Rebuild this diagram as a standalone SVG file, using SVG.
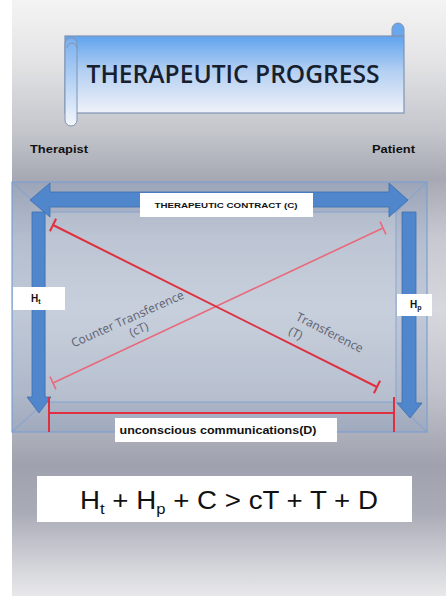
<svg xmlns="http://www.w3.org/2000/svg" width="446" height="596" viewBox="0 0 446 596">
  <defs>
    <linearGradient id="bg" x1="0" y1="0" x2="0" y2="1">
      <stop offset="0" stop-color="#f4f4f4"/>
      <stop offset="0.1" stop-color="#e4e4e6"/>
      <stop offset="0.22" stop-color="#c4c6cc"/>
      <stop offset="0.3" stop-color="#a6a9b3"/>
      <stop offset="0.4" stop-color="#c6c9d0"/>
      <stop offset="0.52" stop-color="#d6d8dd"/>
      <stop offset="0.66" stop-color="#bfc2ca"/>
      <stop offset="0.78" stop-color="#9fa2ae"/>
      <stop offset="0.86" stop-color="#a9abb6"/>
      <stop offset="0.94" stop-color="#cfd0d6"/>
      <stop offset="1" stop-color="#e8e8ea"/>
    </linearGradient>
    <linearGradient id="scroll" x1="0" y1="0" x2="0" y2="1">
      <stop offset="0" stop-color="#5fa3ee"/>
      <stop offset="0.45" stop-color="#b3cff2"/>
      <stop offset="1" stop-color="#f0f2f9"/>
    </linearGradient>
    <linearGradient id="roll" x1="0" y1="0" x2="0" y2="1">
      <stop offset="0" stop-color="#7ab0ee"/>
      <stop offset="1" stop-color="#f4f6fb"/>
    </linearGradient>
    <style>
      .lbl { font-family: "Liberation Sans", Arial, sans-serif; font-weight: bold; fill: #111; }
      .box { fill: #ffffff; }
      .blue { fill: #4f86cc; stroke: #3d6fb0; stroke-width: 0.8; }
      .red { stroke: #e0303f; stroke-width: 2; fill: none; }
      .red2 { stroke: #e86a7a; stroke-width: 1.6; fill: none; }
      .diag { font-family: "Open Sans", "Liberation Sans", sans-serif; font-size: 12px; fill: #5a6070; }
      .frame { stroke: #7e9fd2; stroke-width: 1.2; }
    </style>
  </defs>

  <rect x="0" y="0" width="446" height="596" fill="#ffffff"/>
  <rect x="12" y="0" width="434" height="596" fill="url(#bg)"/>

  <g id="title">
    <path d="M392,36 L392,29 A6,6 0 0 1 404,29 L404,36 Z" fill="#6aa6ec" stroke="#7f93b3" stroke-width="1"/>
    <rect x="65" y="36" width="339" height="77" fill="url(#scroll)" stroke="#7f93b3" stroke-width="1.2"/>
    <rect x="65" y="38" width="12" height="88" rx="6" fill="url(#roll)" stroke="#7f93b3" stroke-width="1"/>
    <path d="M67,48 A5,5 0 0 1 77,48" fill="none" stroke="#7f93b3" stroke-width="1"/>
    <text x="233" y="83" text-anchor="middle" font-family="'Open Sans', 'Liberation Sans', sans-serif" font-weight="600" font-size="25" fill="#16202e" textLength="293" lengthAdjust="spacingAndGlyphs">THERAPEUTIC PROGRESS</text>
  </g>

  <g id="therapist">
    <text class="lbl" x="30" y="153" font-size="10" textLength="58" lengthAdjust="spacingAndGlyphs">Therapist</text>
  </g>
  <g id="patient">
    <text class="lbl" x="372" y="153" font-size="10" textLength="43" lengthAdjust="spacingAndGlyphs">Patient</text>
  </g>

  <g id="frame">
    <rect x="12" y="182" width="415" height="250" fill="#6f93c8" fill-opacity="0.2" class="frame"/>
    <rect x="45" y="212" width="351" height="190" fill="#ffffff" fill-opacity="0.12" class="frame" stroke-opacity="0.7"/>
    <g class="frame" stroke-opacity="0.6">
      <line x1="12" y1="182" x2="45" y2="212"/>
      <line x1="427" y1="182" x2="396" y2="212"/>
      <line x1="12" y1="432" x2="45" y2="402"/>
      <line x1="427" y1="432" x2="396" y2="402"/>
    </g>
  </g>

  <g id="connectors">
    <path class="blue" d="M30,200 L50,183 L50,192 L389,192 L389,183 L408,200 L389,217 L389,207 L50,207 L50,217 Z"/>
    <path class="blue" d="M32,212 L45,212 L45,397 L51,397 L39,413 L27,397 L32,397 Z"/>
    <path class="blue" d="M402,212 L416,212 L416,403 L422,403 L410,418 L397,403 L402,403 Z"/>
    <g class="red2">
      <line x1="53" y1="383" x2="383" y2="228"/>
      <line x1="56" y1="389.3" x2="50" y2="376.7"/>
      <line x1="386" y1="234.3" x2="380" y2="221.7"/>
    </g>
    <g class="red">
      <line x1="53" y1="225" x2="377" y2="387"/>
      <line x1="56.1" y1="218.7" x2="49.9" y2="231.3"/>
      <line x1="380.1" y1="380.7" x2="373.9" y2="393.3"/>
      <line x1="49" y1="413" x2="394" y2="413"/>
      <line x1="49" y1="397" x2="49" y2="432"/>
      <line x1="394" y1="397" x2="394" y2="432"/>
    </g>
  </g>

  <g id="contract">
    <rect class="box" x="140" y="193" width="173" height="24"/>
    <text class="lbl" x="226" y="208" font-size="7.5" text-anchor="middle" textLength="143" lengthAdjust="spacingAndGlyphs">THERAPEUTIC CONTRACT (C)</text>
  </g>

  <g id="ht">
    <rect class="box" x="13" y="287" width="52" height="23"/>
    <text class="lbl" x="31" y="302" font-size="10">H<tspan font-size="7" dy="2">t</tspan></text>
  </g>

  <g id="hp">
    <rect class="box" x="397" y="294" width="35" height="22"/>
    <text class="lbl" x="410" y="308" font-size="10">H<tspan font-size="7" dy="2">p</tspan></text>
  </g>

  <g id="countertransference">
    <g transform="rotate(-24 128 320)">
      <text class="diag" x="128" y="323" text-anchor="middle">Counter Transference</text>
      <text class="diag" x="134" y="337" text-anchor="middle">(cT)</text>
    </g>
  </g>

  <g id="transference">
    <g transform="rotate(27 332 335)">
      <text class="diag" x="292" y="338">Transference</text>
      <text class="diag" x="292" y="354">(T)</text>
    </g>
  </g>

  <g id="unconscious">
    <rect class="box" x="115" y="418" width="222" height="24"/>
    <text class="lbl" x="218" y="434" font-size="10" text-anchor="middle" textLength="197" lengthAdjust="spacingAndGlyphs">unconscious communications(D)</text>
  </g>

  <g id="formula">
    <rect class="box" x="37" y="476" width="375" height="46"/>
    <text x="80" y="509" font-family="'Liberation Sans', Arial, sans-serif" font-size="25" fill="#111" textLength="298" lengthAdjust="spacingAndGlyphs">H<tspan font-size="15" dy="5">t</tspan><tspan dy="-5"> + H</tspan><tspan font-size="15" dy="5">p</tspan><tspan dy="-5"> + C &gt; cT + T + D</tspan></text>
  </g>
</svg>
